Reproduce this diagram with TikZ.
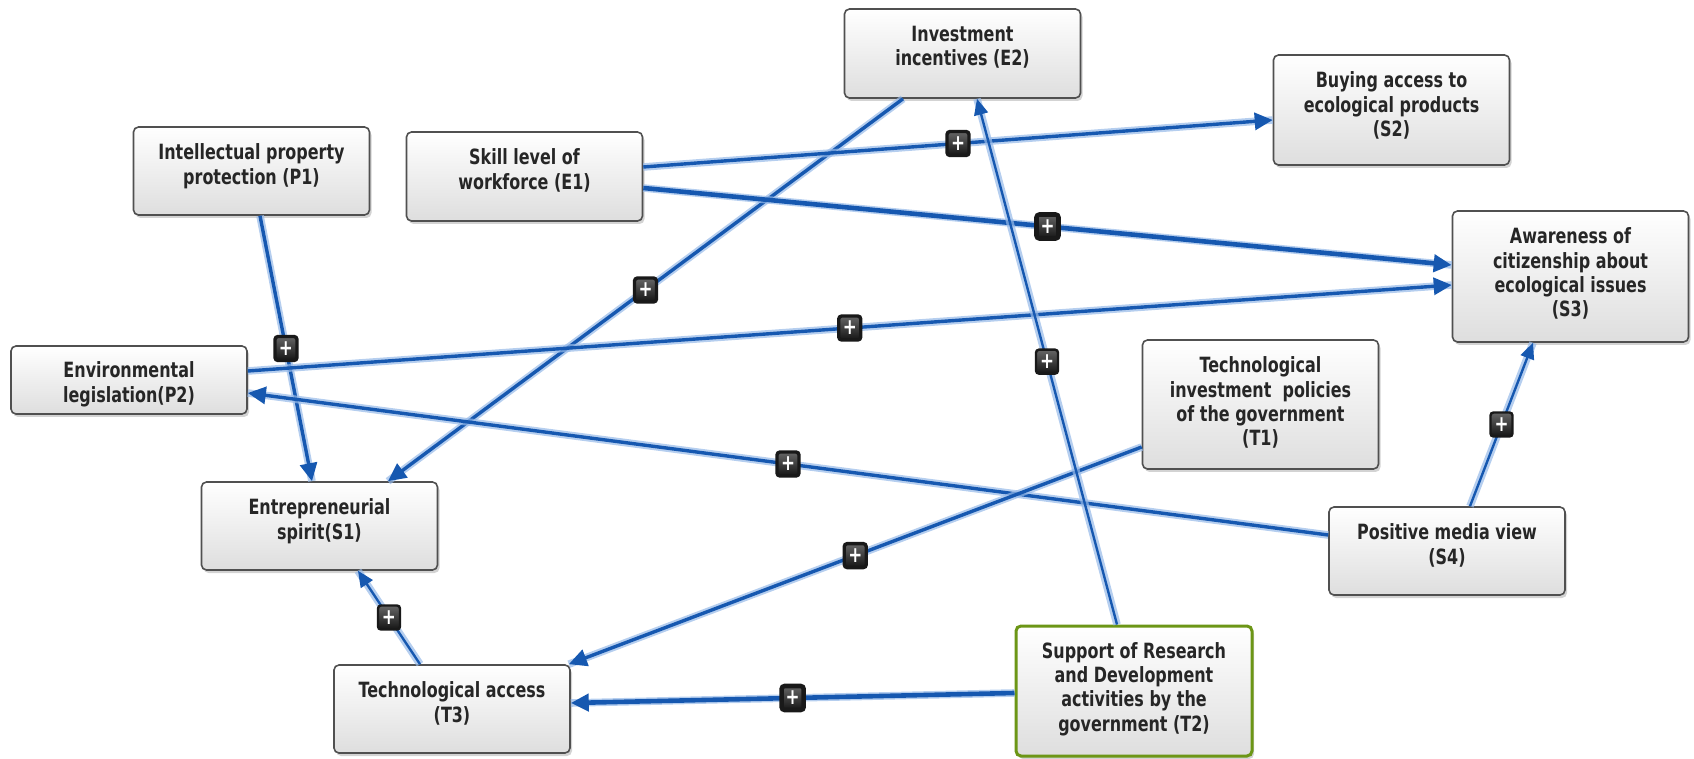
\documentclass[tikz,border=0pt]{standalone}
\usepackage{fontspec}
\setmainfont{DejaVu Sans}[FakeStretch=0.76]
\usetikzlibrary{arrows.meta,shadows}
\definecolor{linkblue}{RGB}{22,88,176}
\definecolor{linkglow}{RGB}{150,185,232}
\definecolor{boxedge}{RGB}{80,80,80}
\definecolor{greenedge}{RGB}{108,150,22}
\tikzset{
  box/.style={draw=boxedge, line width=0.8pt, rounded corners=2.5pt, top color=white, bottom color=black!13,
    minimum width=118pt, inner sep=0pt, drop shadow={opacity=0.35, shadow xshift=1pt, shadow yshift=-1.5pt}},
  txt/.style={anchor=north, align=center, inner sep=0pt, text=black!85, font=\fontsize{10.5}{12.2}\selectfont\bfseries},
  link/.style={draw=linkblue, line width=1.7pt, -{Triangle[length=9pt,width=8.5pt]},
    preaction={draw=linkglow, line width=3.8pt, opacity=0.7, -}},
  thicklink/.style={link, line width=2.3pt},
  thinlink/.style={link, line width=1.2pt, -{Triangle[length=8pt,width=7pt]}},
  plus/.style={draw=black!90, top color=black!60, bottom color=black!92, rounded corners=1.5pt, minimum width=11pt,
    minimum height=12pt, inner sep=0pt, text=white, font=\fontsize{11}{11}\selectfont\bfseries}
}
\begin{document}
\begin{tikzpicture}[x=0.5pt,y=-0.5pt]
\useasboundingbox (0,0) rectangle (1694,759);
% factors
\node[box, minimum height=44pt] (p1) at (251.5,171) {};
\node[txt] (p1t) at ([yshift=-8.6pt]p1.north) {Intellectual property\\protection (P1)};
\node[box, minimum height=44.5pt] (e1) at (524.5,176.5) {};
\node[txt] (e1t) at ([yshift=-8.6pt]e1.north) {Skill level of\\workforce (E1)};
\node[box, minimum height=44.5pt] (e2) at (962.5,53.5) {};
\node[txt] (e2t) at ([yshift=-8.6pt]e2.north) {Investment\\incentives (E2)};
\node[box, minimum height=55pt] (s2) at (1391.5,110) {};
\node[txt] (s2t) at ([yshift=-8.6pt]s2.north) {Buying access to\\ecological products\\(S2)};
\node[box, minimum height=65.5pt] (s3) at (1570.5,276.5) {};
\node[txt] (s3t) at ([yshift=-8.6pt]s3.north) {Awareness of\\citizenship about\\ecological issues\\(S3)};
\node[box, minimum height=34pt] (p2) at (129,380) {};
\node[txt] (p2t) at ([yshift=-8.2pt]p2.north) {Environmental\\legislation(P2)};
\node[box, minimum height=64.5pt] (t1) at (1260.5,404.5) {};
\node[txt] (t1t) at ([yshift=-8.6pt]t1.north) {Technological\\investment\ \ policies\\of the government\\(T1)};
\node[box, minimum height=44pt] (s1) at (319.5,526) {};
\node[txt] (s1t) at ([yshift=-8.6pt]s1.north) {Entrepreneurial\\spirit(S1)};
\node[box, minimum height=44pt] (s4) at (1447,551) {};
\node[txt] (s4t) at ([yshift=-8.6pt]s4.north) {Positive media view\\(S4)};
\node[box, draw=greenedge, line width=1.5pt, minimum height=65pt] (t2) at (1134,691) {};
\node[txt] (t2t) at ([yshift=-8.6pt]t2.north) {Support of Research\\and Development\\activities by the\\government (T2)};
\node[box, minimum height=44pt] (t3) at (452,709) {};
\node[txt] (t3t) at ([yshift=-8.6pt]t3.north) {Technological access\\(T3)};
% links
\draw[link] ([xshift=4.25pt]p1.south) -- node[plus] (m1) {+} ([xshift=-3.75pt]s1.north);
\draw[link] ([xshift=-29.75pt]e2.south) -- node[plus] (m2) {+} ([xshift=34.25pt]s1.north);
\draw[link] ([yshift=4.75pt]e1.east) -- node[plus] (m3) {+} ([yshift=-5pt]s2.west);
\draw[thicklink] ([yshift=-5.75pt]e1.east) -- node[plus] (m4) {+} ([yshift=5.75pt]s3.west);
\draw[link] ([yshift=4.5pt]p2.east) -- node[plus] (m5) {+} ([yshift=-4.25pt]s3.west);
\draw[link] ([yshift=8pt]s4.west) -- node[plus] (m6) {+} ([yshift=-6.5pt]p2.east);
\draw[thinlink] ([xshift=11.5pt]s4.north) -- node[plus] (m7) {+} ([xshift=-18.75pt]s3.south);
\draw[link] ([yshift=-21.25pt]t1.west) -- node[plus] (m8) {+} ([xshift=-1pt]t3.north east);
\draw[thinlink] ([xshift=-8.5pt]t2.north) -- node[plus] (m9) {+} ([xshift=7.25pt]e2.south);
\draw[thicklink] ([yshift=-1pt]t2.west) -- node[plus] (m10) {+} ([yshift=3pt]t3.east);
\draw[thinlink] ([xshift=-16pt]t3.north) -- node[plus] (m11) {+} ([xshift=19.25pt]s1.south);
\end{tikzpicture}
\end{document}
